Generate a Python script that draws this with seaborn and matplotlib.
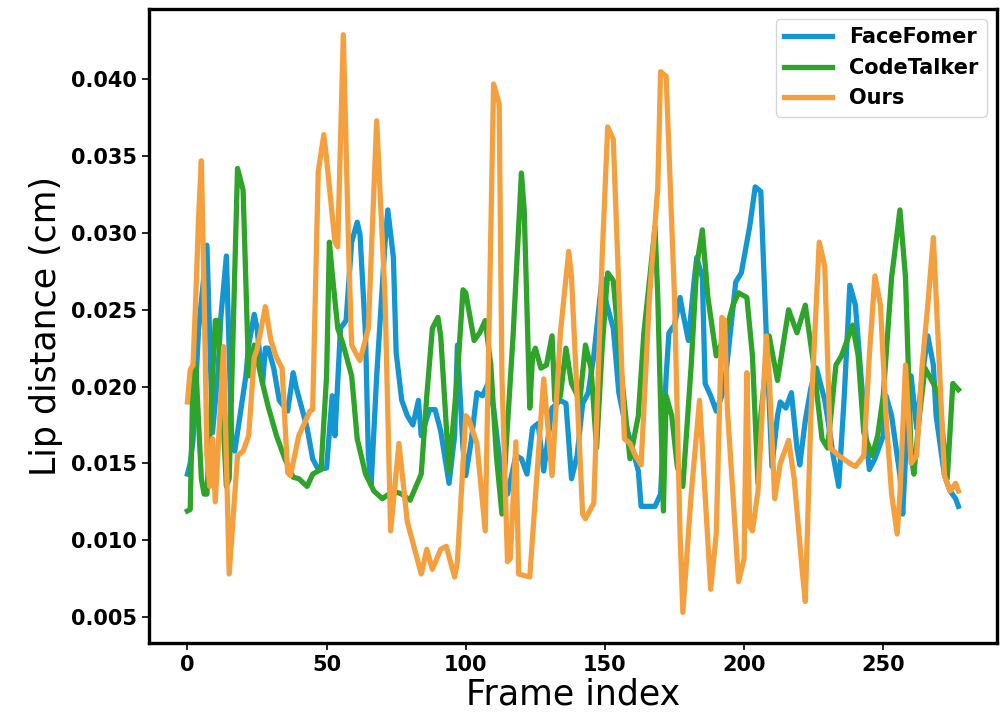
import matplotlib
matplotlib.use("Agg")
import matplotlib.pyplot as plt
import seaborn as sns
import pandas as pd

# lip distance per frame
face_frames = [0, 1, 2, 4, 7, 9, 11, 12, 14, 16, 17, 21, 22, 24, 25, 27, 28, 29, 31, 33,
               36, 38, 39, 43, 45, 47, 50, 52, 53, 55, 57, 59, 61, 62, 64, 65, 66, 68, 71, 72,
               74, 75, 77, 79, 81, 83, 84, 87, 89, 91, 94, 96, 97, 99, 100, 102, 104, 106, 108, 110,
               112, 115, 118, 120, 122, 124, 126, 128, 131, 134, 136, 138, 140, 142, 144, 146, 149, 150, 153, 155,
               157, 159, 162, 163, 165, 168, 170, 172, 173, 175, 177, 178, 180, 182, 183, 185, 186, 188, 190, 192,
               193, 194, 197, 199, 202, 204, 206, 208, 210, 212, 213, 215, 217, 219, 220, 222, 224, 226, 229, 231,
               232, 234, 236, 238, 240, 242, 244, 245, 247, 250, 251, 253, 256, 257, 259, 260, 262, 264, 266, 268,
               269, 272, 274, 276, 277]
face_vals = [0.0143, 0.0150, 0.0165, 0.0237, 0.0292, 0.0170, 0.0210, 0.0245, 0.0285, 0.0160, 0.0158, 0.0207, 0.0227, 0.0247, 0.0238, 0.0202, 0.0225, 0.0225, 0.0212, 0.0191,
             0.0184, 0.0209, 0.0200, 0.0173, 0.0153, 0.0146, 0.0147, 0.0194, 0.0168, 0.0238, 0.0243, 0.0294, 0.0307, 0.0299, 0.0233, 0.0155, 0.0136, 0.0207, 0.0294, 0.0315,
             0.0284, 0.0222, 0.0191, 0.0181, 0.0175, 0.0191, 0.0168, 0.0185, 0.0185, 0.0171, 0.0137, 0.0168, 0.0227, 0.0160, 0.0142, 0.0165, 0.0196, 0.0194, 0.0202, 0.0186,
             0.0155, 0.0130, 0.0155, 0.0153, 0.0143, 0.0173, 0.0176, 0.0145, 0.0186, 0.0191, 0.0189, 0.0140, 0.0155, 0.0189, 0.0196, 0.0220, 0.0271, 0.0258, 0.0238, 0.0196,
             0.0178, 0.0166, 0.0145, 0.0122, 0.0122, 0.0122, 0.0130, 0.0207, 0.0235, 0.0240, 0.0258, 0.0248, 0.0230, 0.0268, 0.0284, 0.0271, 0.0202, 0.0194, 0.0184, 0.0194,
             0.0202, 0.0217, 0.0268, 0.0274, 0.0304, 0.0330, 0.0327, 0.0233, 0.0148, 0.0181, 0.0190, 0.0186, 0.0196, 0.0160, 0.0149, 0.0178, 0.0199, 0.0212, 0.0191, 0.0168,
             0.0155, 0.0135, 0.0194, 0.0266, 0.0253, 0.0207, 0.0163, 0.0146, 0.0153, 0.0168, 0.0194, 0.0181, 0.0142, 0.0117, 0.0191, 0.0207, 0.0173, 0.0207, 0.0233, 0.0214,
             0.0181, 0.0142, 0.0132, 0.0127, 0.0122]

code_frames = [0, 1, 2, 3, 5, 6, 7, 10, 11, 14, 15, 18, 20, 22, 24, 27, 29, 32, 35, 38,
               40, 43, 45, 48, 50, 51, 52, 54, 56, 59, 61, 64, 67, 70, 74, 77, 80, 84, 86, 88,
               90, 91, 94, 97, 99, 100, 103, 105, 107, 109, 111, 113, 117, 120, 121, 123, 124, 125, 127, 129,
               131, 132, 134, 136, 138, 141, 143, 145, 147, 149, 151, 153, 156, 159, 162, 164, 166, 168, 169, 171,
               172, 174, 176, 178, 181, 183, 185, 187, 190, 193, 196, 198, 201, 203, 205, 206, 209, 212, 216, 219,
               222, 225, 228, 230, 233, 235, 239, 241, 243, 246, 248, 250, 253, 256, 258, 260, 261, 263, 265, 268,
               270, 273, 275, 277]
code_vals = [0.0119, 0.0120, 0.0207, 0.0214, 0.0140, 0.0130, 0.0130, 0.0243, 0.0243, 0.0135, 0.0140, 0.0342, 0.0328, 0.0207, 0.0227, 0.0202, 0.0187, 0.0168, 0.0153, 0.0141,
             0.0140, 0.0135, 0.0143, 0.0146, 0.0207, 0.0294, 0.0274, 0.0238, 0.0227, 0.0207, 0.0166, 0.0143, 0.0132, 0.0127, 0.0132, 0.0130, 0.0126, 0.0143, 0.0194, 0.0238,
             0.0245, 0.0233, 0.0145, 0.0207, 0.0263, 0.0261, 0.0230, 0.0235, 0.0243, 0.0214, 0.0155, 0.0117, 0.0233, 0.0339, 0.0315, 0.0186, 0.0220, 0.0225, 0.0212, 0.0214,
             0.0233, 0.0191, 0.0194, 0.0225, 0.0202, 0.0191, 0.0227, 0.0212, 0.0160, 0.0225, 0.0274, 0.0269, 0.0207, 0.0153, 0.0181, 0.0235, 0.0269, 0.0304, 0.0258, 0.0119,
             0.0194, 0.0181, 0.0148, 0.0135, 0.0214, 0.0279, 0.0302, 0.0258, 0.0220, 0.0233, 0.0253, 0.0261, 0.0258, 0.0220, 0.0137, 0.0181, 0.0233, 0.0204, 0.0250, 0.0235,
             0.0253, 0.0214, 0.0166, 0.0160, 0.0214, 0.0220, 0.0240, 0.0220, 0.0170, 0.0155, 0.0168, 0.0194, 0.0271, 0.0315, 0.0271, 0.0155, 0.0143, 0.0181, 0.0212, 0.0202,
             0.0194, 0.0140, 0.0202, 0.0198]

ours_frames = [0, 1, 2, 3, 4, 5, 6, 7, 8, 9, 10, 13, 15, 18, 20, 22, 24, 25, 28, 30,
               32, 34, 36, 37, 40, 44, 45, 47, 49, 50, 53, 54, 56, 58, 59, 61, 62, 65, 68, 71,
               73, 76, 79, 84, 86, 88, 91, 93, 96, 97, 100, 101, 104, 107, 110, 112, 113, 115, 116, 118,
               119, 123, 128, 131, 134, 137, 138, 142, 143, 146, 149, 151, 153, 157, 159, 161, 163, 166, 169, 170,
               172, 175, 177, 178, 181, 184, 186, 188, 190, 192, 193, 194, 196, 198, 200, 201, 202, 203, 205, 208,
               209, 211, 213, 216, 218, 221, 222, 224, 227, 229, 231, 234, 238, 240, 243, 245, 247, 249, 251, 253,
               255, 256, 258, 260, 262, 264, 266, 268, 269, 272, 274, 276, 277]
ours_vals = [0.0190, 0.0211, 0.0214, 0.0258, 0.0310, 0.0347, 0.0260, 0.0155, 0.0135, 0.0166, 0.0125, 0.0226, 0.0078, 0.0155, 0.0158, 0.0168, 0.0219, 0.0224, 0.0252, 0.0230,
             0.0219, 0.0212, 0.0144, 0.0142, 0.0168, 0.0184, 0.0185, 0.0340, 0.0364, 0.0348, 0.0294, 0.0291, 0.0429, 0.0284, 0.0227, 0.0220, 0.0217, 0.0238, 0.0373, 0.0258,
             0.0106, 0.0163, 0.0112, 0.0078, 0.0094, 0.0081, 0.0094, 0.0096, 0.0076, 0.0086, 0.0181, 0.0179, 0.0163, 0.0106, 0.0397, 0.0384, 0.0206, 0.0086, 0.0088, 0.0164,
             0.0078, 0.0076, 0.0205, 0.0142, 0.0235, 0.0288, 0.0271, 0.0117, 0.0114, 0.0124, 0.0284, 0.0369, 0.0361, 0.0166, 0.0163, 0.0155, 0.0149, 0.0258, 0.0330, 0.0405,
             0.0402, 0.0258, 0.0104, 0.0053, 0.0130, 0.0191, 0.0130, 0.0068, 0.0104, 0.0245, 0.0243, 0.0185, 0.0130, 0.0073, 0.0088, 0.0209, 0.0109, 0.0106, 0.0132, 0.0233,
             0.0207, 0.0127, 0.0150, 0.0165, 0.0140, 0.0078, 0.0060, 0.0181, 0.0294, 0.0278, 0.0160, 0.0155, 0.0150, 0.0148, 0.0155, 0.0220, 0.0272, 0.0253, 0.0181, 0.0130,
             0.0104, 0.0130, 0.0214, 0.0150, 0.0155, 0.0214, 0.0253, 0.0297, 0.0258, 0.0142, 0.0132, 0.0137, 0.0132]

methods = ["FaceFomer", "CodeTalker", "Ours"]
colors = {"FaceFomer": "#1396d1", "CodeTalker": "#2ea42a", "Ours": "#f5a03f"}

df = pd.concat([
    pd.DataFrame({"frame": face_frames, "dist": face_vals, "method": "FaceFomer"}),
    pd.DataFrame({"frame": code_frames, "dist": code_vals, "method": "CodeTalker"}),
    pd.DataFrame({"frame": ours_frames, "dist": ours_vals, "method": "Ours"}),
])

fig = plt.figure(figsize=(10.06, 7.25), dpi=100)
ax = fig.add_axes([0.148, 0.113, 0.843, 0.875])

sns.lineplot(data=df, x="frame", y="dist", hue="method", hue_order=methods,
             palette=colors, linewidth=3.8, estimator=None, ax=ax)

ax.set_xlim(-13.85, 290.85)
ax.set_ylim(0.0033, 0.0446)
ax.set_xticks([0, 50, 100, 150, 200, 250])
ax.set_yticks([0.005, 0.010, 0.015, 0.020, 0.025, 0.030, 0.035, 0.040])
ax.set_yticklabels([f"{v:.3f}" for v in ax.get_yticks()])
ax.tick_params(axis="both", labelsize=15, width=1.2, length=5)
for lab in ax.get_xticklabels() + ax.get_yticklabels():
    lab.set_fontweight("bold")
for sp in ax.spines.values():
    sp.set_linewidth(2.4)

ax.set_xlabel("Frame index", fontsize=25, labelpad=2)
ax.set_ylabel("Lip distance (cm)", fontsize=25, labelpad=6)

leg = ax.legend(loc="upper right", prop={"weight": "bold", "size": 15}, handlelength=2.3)
for line in leg.get_lines():
    line.set_linewidth(3.8)

fig.savefig("out.png", dpi=100)
